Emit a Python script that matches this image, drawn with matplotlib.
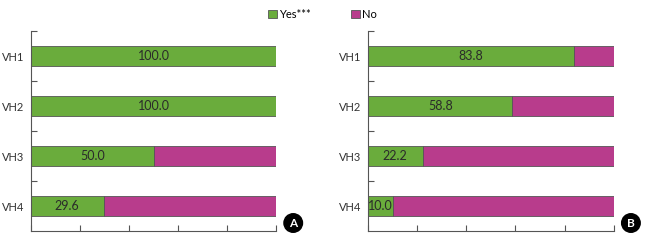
import matplotlib.pyplot as plt
import numpy as np

categories = ['VH1', 'VH2', 'VH3', 'VH4']
yes_a = [100.0, 100.0, 50.0, 29.6]
yes_b = [83.8, 58.8, 22.2, 10.0]
panel_tags = ['A', 'B']

green = '#6aac3c'
pink = '#b83c8c'

plt.rcParams['font.family'] = ['Lato', 'DejaVu Sans']

fig = plt.figure(figsize=(6.45, 2.4), dpi=100)
ax_a = fig.add_axes([0.048, 0.0375, 0.380, 0.833])
ax_b = fig.add_axes([0.5705, 0.0375, 0.381, 0.833])

for ax, yes, tag in zip([ax_a, ax_b], [yes_a, yes_b], panel_tags):
    y = np.arange(len(categories))
    no = [100 - v for v in yes]
    ax.barh(y, yes, height=0.41, color=green, edgecolor='#555555', linewidth=0.6, label='Yes***')
    ax.barh(y, no, left=yes, height=0.41, color=pink, edgecolor='#555555', linewidth=0.6, label='No')
    for yi, v in zip(y, yes):
        ax.text(v / 2, yi, f'{v:.1f}', ha='center', va='center', fontsize=9, color='#2a2a2a')
    ax.set_xlim(0, 100)
    ax.set_ylim(len(categories) - 0.5, -0.5)
    ax.set_xticks(np.arange(0, 101, 20))
    ax.set_xticklabels([])
    ax.set_yticks(y)
    ax.set_yticklabels(categories, fontsize=8, color='#333333')
    ax.set_yticks(np.arange(-0.5, len(categories) - 1), minor=True)
    ax.tick_params(axis='y', which='major', length=0, pad=5)
    ax.tick_params(axis='y', which='minor', direction='in', length=4, color='#555555', width=0.8)
    ax.tick_params(axis='x', direction='in', length=4, color='#555555', width=0.8)
    for s in ['top', 'right']:
        ax.spines[s].set_visible(False)
    for s in ['left', 'bottom']:
        ax.spines[s].set_color('#555555')
        ax.spines[s].set_linewidth(0.8)
    ax.text(1.07, 0.04, tag, transform=ax.transAxes, ha='center', va='center',
            fontsize=8.5, fontweight='bold', color='white',
            bbox=dict(boxstyle='circle,pad=0.32', fc='black', ec='black'))

handles, labels = ax_a.get_legend_handles_labels()
fig.legend(handles, labels, loc='center', bbox_to_anchor=(0.5, 0.94), ncol=2,
           frameon=False, fontsize=8, handlelength=0.8, handleheight=0.8,
           handletextpad=0.2, columnspacing=3.6)

fig.savefig('out.png', dpi=100)
